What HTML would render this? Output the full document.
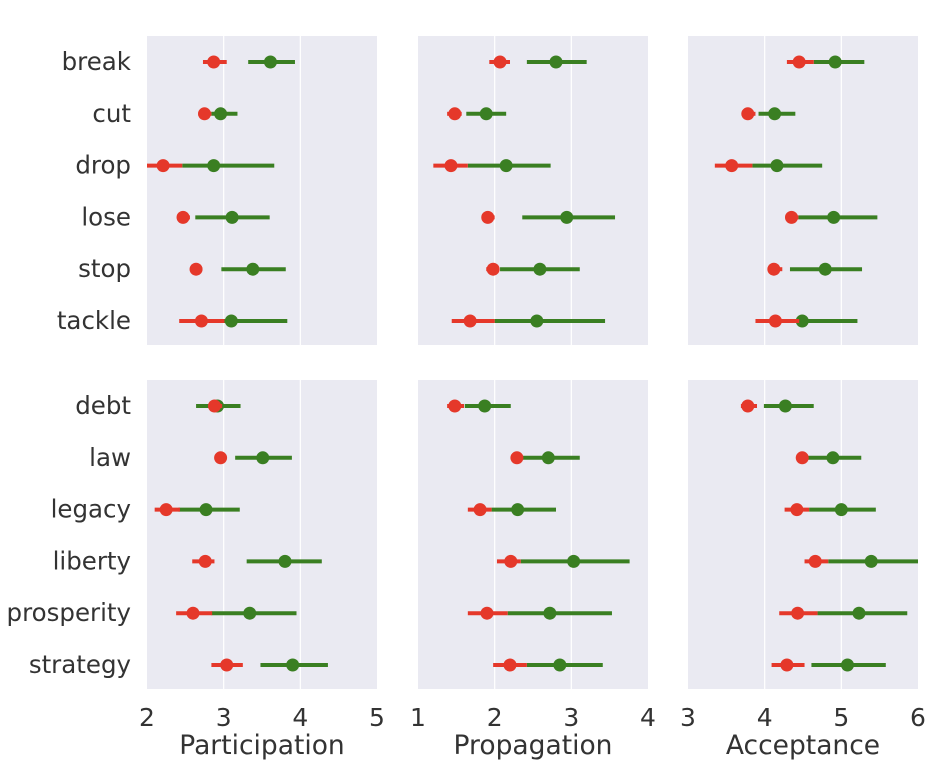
<!DOCTYPE html>
<html><head><meta charset="utf-8"><style>
body{margin:0;background:#fff;}
svg{display:block;font-family:"DejaVu Sans","Liberation Sans",sans-serif;}
</style></head><body>
<svg id="chart" width="950" height="784"></svg>
<script>
const categoriesTop = ["break","cut","drop","lose","stop","tackle"];
const categoriesBottom = ["debt","law","legacy","liberty","prosperity","strategy"];
const metrics = ["Participation","Propagation","Acceptance"];
const domains = [[2,5],[1,4],[3,6]];
const ticks = [[2,3,4,5],[1,2,3,4],[3,4,5,6]];
const redMean = [
 [2.87,2.75,2.21,2.47,2.64,2.71, 2.88,2.96,2.25,2.76,2.60,3.04],
 [2.07,1.48,1.43,1.91,1.98,1.68, 1.48,2.29,1.81,2.21,1.90,2.20],
 [4.45,3.78,3.57,4.35,4.12,4.14, 3.78,4.49,4.42,4.66,4.43,4.29]];
const redLo = [
 [2.73,2.67,2.00,2.41,2.56,2.42, 2.81,2.91,2.10,2.59,2.38,2.84],
 [1.93,1.38,1.20,1.83,1.89,1.44, 1.38,2.23,1.65,2.03,1.65,1.98],
 [4.29,3.70,3.35,4.27,4.04,3.88, 3.69,4.46,4.26,4.52,4.19,4.09]];
const redHi = [
 [3.04,2.84,2.46,2.56,2.72,3.01, 2.98,3.01,2.43,2.88,2.85,3.25],
 [2.20,1.57,1.65,2.00,2.06,2.00, 1.60,2.36,1.96,2.34,2.17,2.42],
 [4.64,3.88,3.84,4.44,4.23,4.45, 3.90,4.56,4.58,4.83,4.69,4.52]];
const greenMean = [
 [3.61,2.96,2.87,3.11,3.38,3.10, 2.92,3.51,2.77,3.80,3.34,3.90],
 [2.80,1.89,2.15,2.94,2.59,2.55, 1.87,2.70,2.30,3.03,2.72,2.85],
 [4.92,4.13,4.16,4.90,4.79,4.49, 4.27,4.89,5.00,5.39,5.23,5.08]];
const greenLo = [
 [3.32,2.84,2.46,2.63,2.97,2.76, 2.64,3.15,2.41,3.30,2.84,3.48],
 [2.42,1.63,1.65,2.36,2.07,2.00, 1.61,2.36,1.96,2.34,2.17,2.42],
 [4.64,3.92,3.84,4.44,4.33,4.45, 3.99,4.56,4.58,4.83,4.69,4.61]];
const greenHi = [
 [3.93,3.18,3.66,3.60,3.81,3.83, 3.22,3.89,3.21,4.28,3.95,4.36],
 [3.20,2.15,2.73,3.57,3.11,3.44, 2.21,3.11,2.80,3.76,3.53,3.41],
 [5.30,4.40,4.75,5.47,5.27,5.21, 4.64,5.26,5.45,6.00,5.86,5.58]];

const NS="http://www.w3.org/2000/svg";
const svg=document.getElementById('chart');
function mk(tag,attrs,parent){const e=document.createElementNS(NS,tag);for(const k in attrs)e.setAttribute(k,attrs[k]);(parent||svg).appendChild(e);return e;}
const colX=[147,418,688], panelW=230;
const rowY=[36,380], panelH=309;
const RED="#e5382a", GREEN="#3a7f22";
for(let r=0;r<2;r++){
  const cats = r===0?categoriesTop:categoriesBottom;
  const yOf = i => rowY[r]+26+i*51.8;
  cats.forEach((c,i)=>{
    const t=mk('text',{x:131,y:yOf(i)+8,'text-anchor':'end','font-size':24.5,fill:'#333'});
    
    
    t.textContent=c;
  });
  for(let m=0;m<3;m++){
    const [d0,d1]=domains[m];
    const xOf=v=>colX[m]+(v-d0)/(d1-d0)*panelW;
    const g=mk('g',{});
    
    
    mk('rect',{x:colX[m],y:rowY[r],width:panelW,height:panelH,fill:'#eaeaf2'},g);
    ticks[m].forEach(tv=>{
      const x=xOf(tv);
      if(tv>d0&&tv<d1) mk('line',{x1:x,x2:x,y1:rowY[r],y2:rowY[r]+panelH,stroke:'#fff','stroke-width':1.2},g);
      if(r===1){
        const t=mk('text',{x:x,y:726,'text-anchor':'middle','font-size':25,fill:'#333'});
        
        
        t.textContent=tv;
      }
    });
    cats.forEach((c,i)=>{
      const k=r*6+i, y=yOf(i);
      const gl=mk('line',{x1:xOf(greenLo[m][k]),x2:xOf(greenHi[m][k]),y1:y,y2:y,stroke:GREEN,'stroke-width':4},g);
      
      
      const gp=mk('circle',{cx:xOf(greenMean[m][k]),cy:y,r:6.5,fill:GREEN},g);
      
      
      const rl=mk('line',{x1:xOf(redLo[m][k]),x2:xOf(redHi[m][k]),y1:y,y2:y,stroke:RED,'stroke-width':4},g);
      
      
      const rp=mk('circle',{cx:xOf(redMean[m][k]),cy:y,r:6.5,fill:RED},g);
      
      
    });
    if(r===1){
      const t=mk('text',{x:colX[m]+panelW/2,y:754,'text-anchor':'middle','font-size':26.5,fill:'#333'});
      
      
      t.textContent=metrics[m];
    }
  }
}
</script>
</body></html>
